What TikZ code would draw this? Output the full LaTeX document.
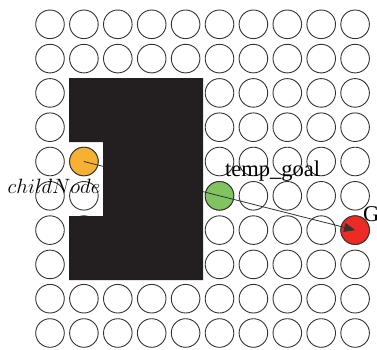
\documentclass[tikz,border=0pt]{standalone}
\usepackage{fontspec}
\usetikzlibrary{arrows.meta}
\newfontfamily\lblserif{Liberation Serif}
\definecolor{blk}{HTML}{231F20}
\definecolor{orng}{HTML}{F6B133}
\definecolor{grn}{HTML}{80C45F}
\definecolor{rd}{HTML}{EE2A24}
\definecolor{edge}{HTML}{333333}
\tikzset{
  cell/.style={circle,draw=edge,line width=0.9pt,minimum size=28.6pt,inner sep=0pt},
  lbl/.style={inner sep=0pt,font=\fontsize{21}{24}\selectfont},
  slbl/.style={inner sep=0pt,font=\lblserif\fontsize{22.5}{26}\selectfont},
}
\begin{document}
\begin{tikzpicture}[x=1pt,y=-1pt]
\useasboundingbox (0,0) rectangle (377,349);
% grid of circles
\foreach \i in {1,...,10}{
  \foreach \j in {1,...,10}{
    \pgfmathsetmacro{\cx}{50+33.9*(\i-1)}
    \pgfmathsetmacro{\cy}{24.3+34.3*(\j-1)}
    \node[cell] (c-\i-\j) at (\cx,\cy) {};
  }
}
\node[cell,fill=orng] at (c-2-5) {};
\node[cell,fill=grn] at (c-6-6) {};
\node[cell,fill=rd] at (c-10-7) {};
% connector
\draw[edge,line width=0.8pt,-{Triangle[length=11pt,width=9pt]}] (c-2-5.center) -- (c-10-7.center);
% obstacle
\fill[blk] (69,78) -- (203,78) -- (203,280) -- (69,280) -- (69,216) -- (103,216) -- (103,142) -- (69,142) -- cycle;
% labels
\node[lbl,anchor=base] (lc) at (54,193.3) {$childNode$};
\node[slbl,anchor=base] (lt) at (272.7,176.7) {temp\_goal};
\node[slbl,anchor=base west] (lg) at (363,221.7) {G};
\end{tikzpicture}
\end{document}
